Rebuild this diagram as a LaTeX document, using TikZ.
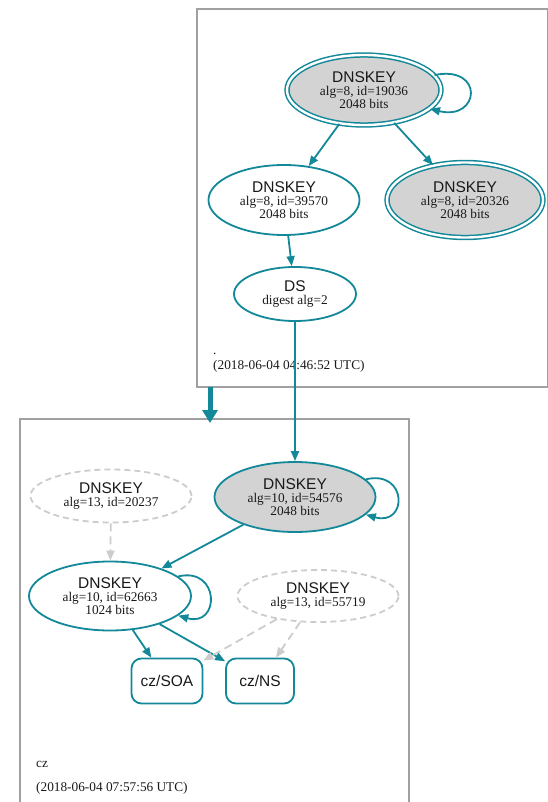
\documentclass[tikz,border=0pt]{standalone}
\usepackage{fontspec}
\setmainfont{Liberation Serif}
\setsansfont{Liberation Sans}
\usetikzlibrary{shapes.geometric,arrows.meta}
\definecolor{teal}{RGB}{18,136,152}
\definecolor{keyfill}{RGB}{211,211,211}
\definecolor{dashgray}{RGB}{204,204,204}
\definecolor{clustgray}{RGB}{160,160,160}
\newcommand{\hd}[1]{{\fontsize{15.5}{15}\sffamily #1}}
\tikzset{
  keynode/.style={ellipse, draw=teal, line width=1.8pt, inner sep=0pt, align=center,
     font=\fontsize{13.3}{12.8}\selectfont, text=black!90},
  dblkey/.style={keynode, double=white, double distance=2.4pt, line width=1.5pt, fill=keyfill},
  ghostkey/.style={keynode, draw=dashgray, dash pattern=on 6pt off 4pt},
  rrnode/.style={rectangle, rounded corners=10pt, draw=teal, line width=1.8pt,
     minimum width=71pt, minimum height=45pt, inner sep=0pt, font=\fontsize{15.5}{15}\sffamily, text=black!90},
  edge/.style={draw=teal, line width=1.8pt, -{Triangle[length=10pt,width=8pt]}},
  ghostedge/.style={draw=dashgray, line width=1.8pt, dash pattern=on 8pt off 5pt, -{Triangle[length=10pt,width=8pt]}},
  clust/.style={draw=clustgray, line width=1.2pt},
  lbl/.style={anchor=base west, inner sep=0pt, font=\fontsize{13.3}{13}\selectfont, text=black!90}
}
\begin{document}
\begin{tikzpicture}[x=1pt,y=-1pt]
\useasboundingbox (0,0) rectangle (547,802);
% clusters
\draw[clust] (197,9) rectangle (547.5,387);
\draw[clust] (20,419) rectangle (409,803);
\node[lbl] (rootdot) at (213,354) {.};
\node[lbl] (roottime) at (213,369) {(2018-06-04 04:46:52 UTC)};
\node[lbl] (czname) at (36,767) {cz};
\node[lbl] (cztime) at (36,791) {(2018-06-04 07:57:56 UTC)};
% top nodes
\node[dblkey, minimum width=154pt, minimum height=70pt] (k19036) at (364,90) {\hd{DNSKEY}\\alg=8, id=19036\\2048 bits};
\node[keynode, minimum width=151pt, minimum height=70pt] (k39570) at (284,200) {\hd{DNSKEY}\\alg=8, id=39570\\2048 bits};
\node[dblkey, minimum width=156pt, minimum height=75pt] (k20326) at (465,200) {\hd{DNSKEY}\\alg=8, id=20326\\2048 bits};
\node[keynode, minimum width=122pt, minimum height=54pt] (ds) at (295,294) {\hd{DS}\\digest alg=2};
% bottom nodes
\node[keynode, fill=keyfill, minimum width=161pt, minimum height=70pt] (k54576) at (295,497) {\hd{DNSKEY}\\alg=10, id=54576\\2048 bits};
\node[ghostkey, minimum width=161pt, minimum height=53pt] (k20237) at (111,496) {\hd{DNSKEY}\\alg=13, id=20237};
\node[keynode, minimum width=162pt, minimum height=69pt] (k62663) at (110,596) {\hd{DNSKEY}\\alg=10, id=62663\\1024 bits};
\node[ghostkey, minimum width=161pt, minimum height=52pt] (k55719) at (318,596) {\hd{DNSKEY}\\alg=13, id=55719};
\node[rrnode] (soa) at (167,681) {cz/SOA};
\node[rrnode, minimum width=68pt] (ns) at (260,681) {cz/NS};
% delegation
\coordinate (delA) at (210,387);
\coordinate (delB) at (210,423);
\draw[draw=teal, line width=5pt, -{Triangle[length=13pt,width=15pt]}] (delA) -- (delB);
% edges
\draw[edge] (k19036) -- (k39570);
\draw[edge] (k19036) -- (k20326);
\draw[edge] (k19036.12) .. controls +(50,-10) and +(50,12) .. (k19036.-16);
\draw[edge] (k39570) -- (ds);
\draw[edge] (ds) -- (k54576);
\draw[edge] (k54576.14) .. controls +(42,-10) and +(42,12) .. (k54576.-14);
\draw[edge] (k54576) -- (k62663);
\draw[ghostedge] (k20237) -- (k62663);
\draw[edge] (k62663.16) .. controls +(42,-10) and +(42,12) .. (k62663.-16);
\draw[edge] (k62663) -- (soa);
\draw[edge] (k62663) -- (ns);
\draw[ghostedge] (k55719) -- (soa);
\draw[ghostedge] (k55719) -- (ns);
\end{tikzpicture}
\end{document}
